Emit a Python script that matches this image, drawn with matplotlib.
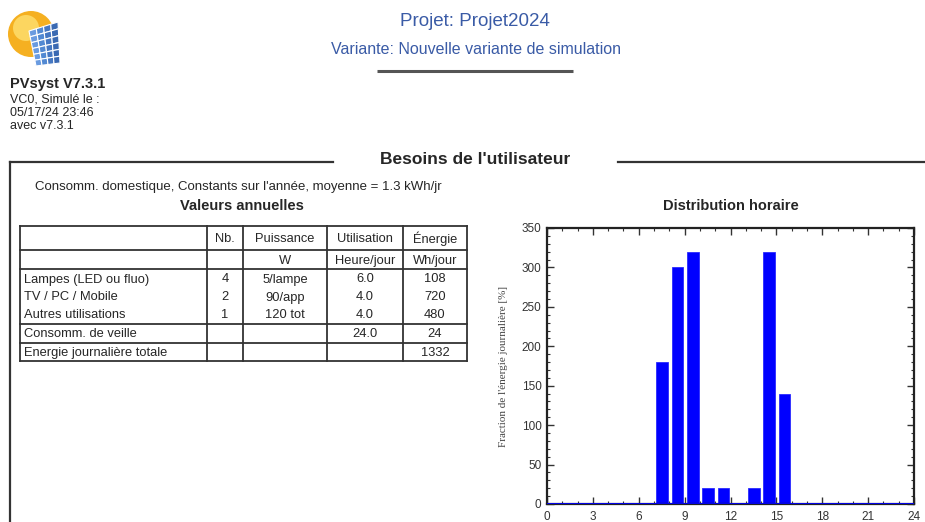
import matplotlib
matplotlib.use("Agg")
import matplotlib.pyplot as plt
from matplotlib.patches import Circle, Polygon
import numpy as np

plt.rcParams['font.family'] = ['Liberation Sans', 'DejaVu Sans']

# ---------------- data ----------------
hours = list(range(24))
fraction = [0, 0, 0, 0, 0, 0, 0, 180, 300, 320, 20, 20, 0, 20, 320, 140,
            0, 0, 0, 0, 0, 0, 0, 0]
x_ticks = [0, 3, 6, 9, 12, 15, 18, 21, 24]
y_ticks = [0, 50, 100, 150, 200, 250, 300, 350]

row_labels = ["Lampes (LED ou fluo)", "TV / PC / Mobile", "Autres utilisations",
              "Consomm. de veille", "Energie journalière totale"]
col_nb = ["4", "2", "1", "", ""]
col_puissance = ["5/lampe", "90/app", "120 tot", "", ""]
col_utilisation = ["6.0", "4.0", "4.0", "24.0", ""]
col_energie = ["108", "720", "480", "24", "1332"]
header1 = ["", "Nb.", "Puissance", "Utilisation", "Énergie"]
header2 = ["", "", "W", "Heure/jour", "Wh/jour"]

W, H = 925, 522
fig = plt.figure(figsize=(W / 100, H / 100), dpi=100)

# overlay in pixel coordinates
ov = fig.add_axes([0, 0, 1, 1])
ov.set_xlim(0, W)
ov.set_ylim(H, 0)
ov.axis('off')

blue_txt = '#3a5ba6'
dark = '#262626'

# logo
ov.add_patch(Circle((31, 34), 23, facecolor='#f5b021', edgecolor='none', zorder=1))
ov.add_patch(Circle((26, 28), 13, facecolor='#fcd660', edgecolor='none', zorder=1))
def lerp(a, b, t):
    return (a[0] + (b[0] - a[0]) * t, a[1] + (b[1] - a[1]) * t)
TL, TR, BR, BL = (29, 31), (58, 22), (60, 63), (36, 66)
ncol, nrow = 4, 6
for i in range(ncol):
    for j in range(nrow):
        t0, t1 = i / ncol, (i + 1) / ncol
        s0, s1 = j / nrow, (j + 1) / nrow
        topa, topb = lerp(TL, TR, t0), lerp(TL, TR, t1)
        bota, botb = lerp(BL, BR, t0), lerp(BL, BR, t1)
        p1 = lerp(topa, bota, s0); p2 = lerp(topb, botb, s0)
        p3 = lerp(topb, botb, s1); p4 = lerp(topa, bota, s1)
        shade = ['#6a9be0', '#5289d2', '#4577c2', '#3a69b2'][i]
        ov.add_patch(Polygon([p1, p2, p3, p4], closed=True, facecolor=shade,
                             edgecolor='white', linewidth=0.8, zorder=2))

ov.text(10, 84, "PVsyst V7.3.1", fontsize=10.5, fontweight='bold', color=dark, va='center')
ov.text(10, 100, "VC0, Simulé le :", fontsize=9, color=dark, va='center')
ov.text(10, 113, "05/17/24 23:46", fontsize=9, color=dark, va='center')
ov.text(10, 126, "avec v7.3.1", fontsize=9, color=dark, va='center')

ov.text(475, 22, "Projet: Projet2024", fontsize=13.5, color=blue_txt, ha='center', va='center')
ov.text(476, 50, "Variante: Nouvelle variante de simulation", fontsize=11.5,
        color=blue_txt, ha='center', va='center')
ov.plot([377, 573], [71, 71], color='#555555', lw=2.2, solid_capstyle='butt')

# section frame
ov.plot([10, 333], [162, 162], color='#333333', lw=1.6)
ov.plot([618, 925], [162, 162], color='#333333', lw=1.6)
ov.plot([10, 10], [162, 522], color='#333333', lw=1.6)
ov.text(475, 160, "Besoins de l'utilisateur", fontsize=12.5, fontweight='bold',
        color=dark, ha='center', va='center')

ov.text(35, 187, "Consomm. domestique, Constants sur l'année, moyenne = 1.3 kWh/jr",
        fontsize=9.5, color=dark, va='center')
ov.text(242, 206, "Valeurs annuelles", fontsize=10.5, fontweight='bold', color=dark,
        ha='center', va='center')

# table
xs = [20, 207, 243, 327, 403, 467]
ys = [226, 250, 269, 324, 343, 361]
lc = '#333333'
for y in ys:
    ov.plot([xs[0], xs[-1]], [y, y], color=lc, lw=1.3)
for x in xs:
    ov.plot([x, x], [ys[0], ys[-1]], color=lc, lw=1.3)
centers = [(xs[k] + xs[k + 1]) / 2 for k in range(5)]
tfs = 9.3
for k in range(1, 5):
    ov.text(centers[k], 238.5, header1[k], fontsize=tfs, color=dark, ha='center', va='center')
    ov.text(centers[k], 261, header2[k], fontsize=tfs, color=dark, ha='center', va='center')
row_y = [279.5, 297.5, 315.5, 334, 353]
cols = [col_nb, col_puissance, col_utilisation, col_energie]
for r, y in enumerate(row_y):
    ov.text(24, y, row_labels[r], fontsize=tfs, color=dark, va='center')
    for k, col in enumerate(cols):
        ov.text(centers[k + 1], y, col[r], fontsize=tfs, color=dark, ha='center', va='center')

# chart
ax = fig.add_axes([547 / W, 1 - 504 / H, 367 / W, 276 / H])
ax.bar(np.array(hours) + 0.53, fraction, width=0.76, color='#0000ff',
       edgecolor='#2a2aff', linewidth=0.6, zorder=2)
ax.axhline(0, color='#0000ff', lw=2, zorder=3)
ax.set_xlim(0, 24)
ax.set_ylim(0, 350)
ax.set_xticks(x_ticks)
ax.set_yticks(y_ticks)
ax.set_xticks(range(25), minor=True)
ax.set_yticks(range(0, 351, 10), minor=True)
ax.tick_params(which='both', direction='in', top=True, right=True,
               labelsize=8.5, labelcolor='#333333', color='#333333')
ax.tick_params(which='major', length=5, width=1)
ax.tick_params(axis='x', which='major', pad=5)
ax.tick_params(axis='y', which='major', pad=4)
ax.tick_params(which='minor', length=2.5, width=0.8)
for s in ax.spines.values():
    s.set_linewidth(1.6)
    s.set_color('#222222')
ax.set_ylabel("Fraction de l'énergie journalière [%]", fontsize=8,
              family=['Liberation Serif', 'DejaVu Serif'], color='#444444', labelpad=10)
ax.set_title("Distribution horaire", fontsize=10.5, fontweight='bold', color=dark, pad=13)

fig.savefig("out.png", dpi=100)
